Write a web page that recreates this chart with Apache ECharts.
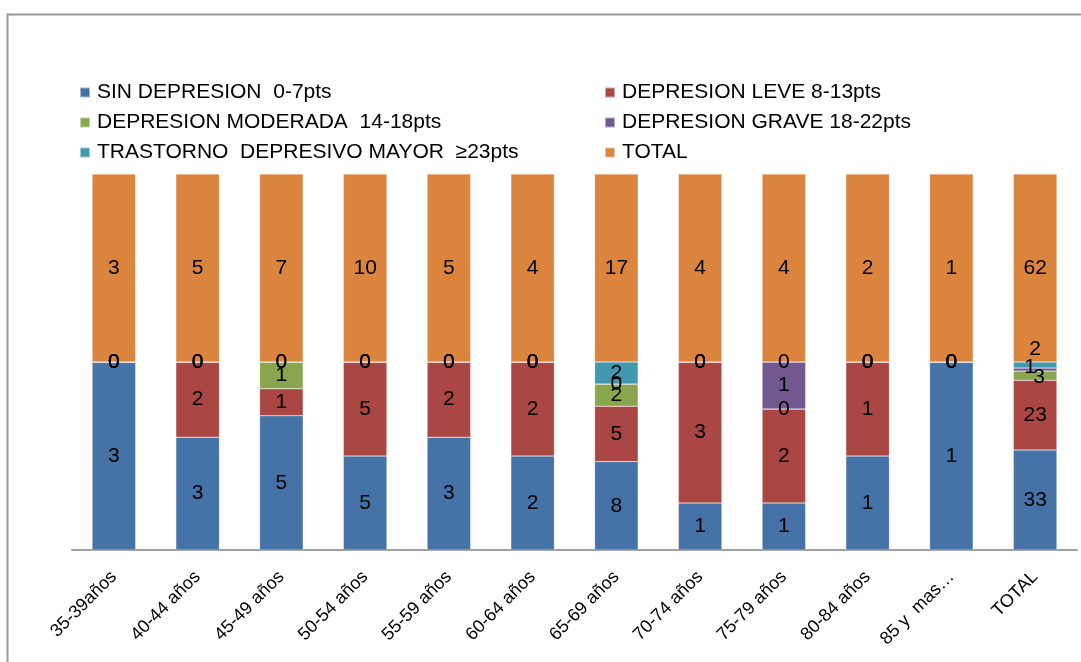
<!DOCTYPE html>
<html><head><meta charset="utf-8">
<script src="https://cdn.jsdelivr.net/npm/echarts@6/dist/echarts.min.js"></script>
<style>html,body{margin:0;padding:0;background:#fff}#c{width:1081px;height:662px}</style>
</head><body><div id="c"></div>
<script>
const categories = ['35-39años','40-44 años','45-49 años','50-54 años','55-59 años','60-64 años','65-69 años','70-74 años','75-79 años','80-84 años','85 y  mas…','TOTAL'];
const sinDepresion = [3,3,5,5,3,2,8,1,1,1,1,33];
const depLeve      = [0,2,1,5,2,2,5,3,2,1,0,23];
const depModerada  = [0,0,1,0,0,0,2,0,0,0,0,3];
const depGrave     = [0,0,0,0,0,0,0,0,1,0,0,1];
const trastorno    = [0,0,0,0,0,0,2,0,0,0,0,2];
const total        = [3,5,7,10,5,4,17,4,4,2,1,62];

const seriesNames = ['SIN DEPRESION  0-7pts','DEPRESION LEVE 8-13pts','DEPRESION MODERADA  14-18pts','DEPRESION GRAVE 18-22pts','TRASTORNO  DEPRESIVO MAYOR  ≥23pts','TOTAL'];
const seriesRaw = [sinDepresion, depLeve, depModerada, depGrave, trastorno, total];
const colors = ['#4572A7','#AA4643','#89A54E','#71588F','#4198AF','#DB843D'];

// label nudges for crowded thin segments in the TOTAL column: [seriesIndex, dataIndex, offset]
const labelNudges = [[2, 11, [4, 2]], [3, 11, [-5, -2]], [4, 11, [0, -16]]];

// 100% stacked: each column's parts share sums to the stack total
const sums = categories.map((_, i) => seriesRaw.reduce((s, arr) => s + arr[i], 0));

const legendText = { fontSize: 21, color: '#000', padding: [0, 0, 0, 2] };
const chart = echarts.init(document.getElementById('c'));
chart.setOption({
  animation: false,
  textStyle: { fontFamily: 'Liberation Sans, Arial, sans-serif' },
  graphic: [{
    type: 'rect', left: 5, top: 12, shape: { width: 1200, height: 800 },
    style: { fill: 'none', stroke: '#9a9a9a', lineWidth: 2 }, silent: true
  }],
  legend: [
    {
      orient: 'vertical', left: 79, top: 82, padding: 0, itemWidth: 10, itemHeight: 10, itemGap: 9,
      icon: 'rect', textStyle: legendText,
      data: [seriesNames[0], seriesNames[2], seriesNames[4]]
    },
    {
      orient: 'vertical', left: 604, top: 82, padding: 0, itemWidth: 10, itemHeight: 10, itemGap: 9,
      icon: 'rect', textStyle: legendText,
      data: [seriesNames[1], seriesNames[3], seriesNames[5]]
    }
  ],
  grid: { left: 72, right: 4, top: 174, bottom: 112, containLabel: false },
  xAxis: {
    type: 'category', data: categories,
    axisLine: { lineStyle: { color: '#a0a0a0', width: 2 } },
    axisTick: { show: false },
    axisLabel: { rotate: 45, fontSize: 18, color: '#000', margin: 24, interval: 0 }
  },
  yAxis: { type: 'value', min: 0, max: 100, show: false, splitLine: { show: false } },
  series: seriesRaw.map((arr, k) => ({
    name: seriesNames[k], type: 'bar', stack: 'all', barWidth: '52%',
    itemStyle: { color: colors[k], borderColor: 'rgba(255,255,255,0.5)', borderWidth: 0.5 },
    label: {
      show: true, position: 'inside', fontSize: 21, color: '#000',
      formatter: p => String(arr[p.dataIndex])
    },
    data: arr.map((v, i) => {
      const val = v / sums[i] * 100;
      const n = labelNudges.find(t => t[0] === k && t[1] === i);
      return n ? { value: val, label: { offset: n[2] } } : val;
    })
  }))
});
</script></body></html>
